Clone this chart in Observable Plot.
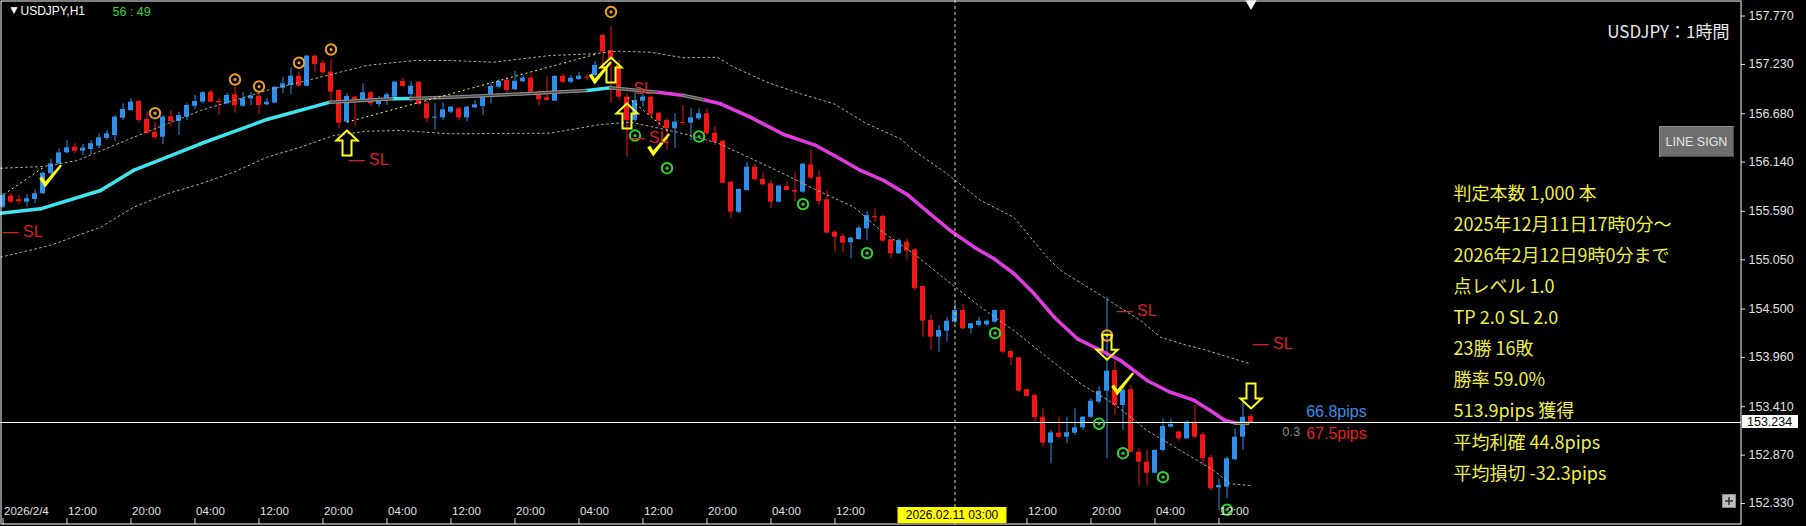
<!DOCTYPE html>
<html><head><meta charset="utf-8">
<script src="https://cdn.jsdelivr.net/npm/d3@7"></script>
<script src="https://cdn.jsdelivr.net/npm/@observablehq/plot@0.6"></script>
<style>
html,body{margin:0;padding:0;background:#000;}
#chart{position:relative;width:1806px;height:526px;overflow:hidden;background:#000;}
svg{display:block;}
</style></head><body><div id="chart"></div>
<script>
// ---------- DATA (H1 bars, index 1 = 2026/2/4 04:00) ----------
const opens = [155.637,155.760,155.720,155.693,155.723,155.787,156.010,156.121,156.244,156.307,156.262,156.281,156.318,156.404,156.437,156.630,156.716,156.817,156.616,156.474,156.418,156.646,156.594,156.642,156.764,156.809,156.921,156.817,156.791,156.892,156.764,156.847,156.876,156.780,156.798,156.965,156.995,157.099,156.987,157.322,157.244,157.144,156.940,156.586,156.865,156.820,156.914,156.783,156.836,156.865,157.040,156.892,157.032,156.791,156.630,156.635,156.697,156.735,156.635,156.746,156.761,156.876,156.976,157.051,156.947,157.037,157.077,156.921,156.858,156.820,157.096,157.032,157.062,157.088,157.107,157.553,157.386,157.219,156.865,156.605,156.820,156.865,156.686,156.605,156.512,156.582,156.575,156.624,156.679,156.463,156.374,155.916,155.581,155.823,156.083,155.946,155.898,155.693,155.868,155.823,155.804,156.110,155.972,155.720,155.358,155.310,155.240,155.277,155.396,155.533,155.533,155.273,155.117,155.246,155.162,154.752,154.372,154.186,154.253,154.354,154.484,154.280,154.317,154.324,154.354,154.484,154.026,153.956,153.599,153.535,153.293,153.003,153.115,153.070,153.115,153.175,153.293,153.461,153.583,153.814,153.424,153.599,152.903,152.791,152.668,152.922,153.182,153.126,153.052,153.237,153.097,152.840,152.505,152.512,152.818,153.070,153.301];
const highs = [155.787,155.787,155.768,155.779,155.835,156.028,156.177,156.289,156.381,156.345,156.337,156.381,156.456,156.493,156.660,156.791,156.847,156.828,156.697,156.586,156.660,156.716,156.697,156.791,156.884,156.928,156.940,156.847,156.909,156.976,156.921,156.921,156.903,156.854,156.984,157.088,157.193,157.144,157.330,157.330,157.274,157.282,156.947,156.903,156.876,157.014,156.928,156.873,156.914,157.040,157.077,157.040,157.040,156.817,156.791,156.802,156.761,156.753,156.761,156.828,156.892,157.014,157.059,157.077,157.152,157.107,157.118,156.940,157.096,157.107,157.126,157.107,157.144,157.118,157.263,157.572,157.654,157.274,156.906,156.921,156.903,156.873,156.697,156.624,156.679,156.772,156.735,156.735,156.735,156.538,156.381,155.927,155.842,156.139,156.114,156.021,155.935,155.879,155.916,156.028,156.128,156.278,156.039,155.823,155.377,155.340,155.302,155.425,155.589,155.619,155.544,155.284,155.284,155.284,155.176,154.763,154.428,154.317,154.409,154.559,154.551,154.342,154.409,154.380,154.492,154.492,154.045,153.963,153.610,153.554,153.387,153.145,153.293,153.293,153.387,153.301,153.499,153.636,154.633,153.918,153.610,153.647,152.940,152.929,152.929,153.275,153.275,153.137,153.256,153.424,153.126,152.866,152.606,152.847,153.164,153.461,153.323];
const lows = [155.619,155.675,155.667,155.637,155.675,155.779,155.991,156.114,156.233,156.233,156.214,156.222,156.289,156.381,156.374,156.605,156.705,156.575,156.445,156.393,156.337,156.530,156.437,156.605,156.724,156.791,156.802,156.660,156.780,156.686,156.753,156.772,156.672,156.769,156.791,156.903,156.895,156.976,156.976,157.144,157.115,156.828,156.512,156.575,156.538,156.809,156.761,156.753,156.772,156.847,156.976,156.809,156.772,156.579,156.493,156.605,156.679,156.605,156.586,156.735,156.660,156.791,156.958,156.884,156.940,157.025,156.909,156.764,156.820,156.817,157.014,157.014,157.051,157.051,157.088,157.200,156.794,156.828,156.195,156.586,156.753,156.642,156.530,156.270,156.289,156.549,156.381,156.605,156.437,156.326,155.898,155.508,155.563,155.816,155.927,155.879,155.619,155.682,155.816,155.693,155.793,155.946,155.656,155.340,155.135,155.128,155.061,155.265,155.265,155.470,155.246,155.061,155.109,155.050,154.699,154.186,154.038,154.019,154.130,154.336,154.269,154.224,154.298,154.309,154.342,154.001,153.870,153.572,153.516,153.237,152.958,152.773,153.052,152.996,153.089,153.145,153.275,153.443,152.829,153.312,153.145,152.891,152.531,152.531,152.661,152.903,153.175,153.025,153.044,153.052,152.754,152.475,152.252,152.382,152.810,152.922,153.226];
const closes = [155.768,155.693,155.697,155.731,155.787,156.016,156.121,156.244,156.300,156.262,156.296,156.345,156.412,156.456,156.642,156.727,156.809,156.605,156.463,156.412,156.642,156.594,156.660,156.772,156.817,156.914,156.809,156.802,156.884,156.769,156.847,156.876,156.772,156.809,156.976,157.014,157.099,156.987,157.322,157.230,157.137,156.921,156.575,156.873,156.809,156.914,156.791,156.836,156.892,157.032,156.984,156.987,156.783,156.624,156.642,156.724,156.753,156.635,156.753,156.780,156.884,156.984,157.040,156.940,157.043,157.077,156.921,156.836,156.828,157.096,157.032,157.077,157.099,157.081,157.219,157.367,157.297,156.865,156.605,156.828,156.865,156.672,156.597,156.512,156.586,156.571,156.635,156.679,156.456,156.362,155.905,155.581,155.835,156.083,155.943,155.887,155.693,155.871,155.823,155.804,156.117,155.961,155.701,155.349,155.302,155.235,155.291,155.403,155.544,155.519,155.258,155.117,155.265,155.146,154.726,154.365,154.186,154.261,154.365,154.484,154.280,154.336,154.365,154.365,154.484,154.019,153.956,153.583,153.524,153.287,153.003,153.119,153.070,153.119,153.175,153.293,153.472,153.583,153.807,153.424,153.591,152.903,152.791,152.668,152.922,153.189,153.212,153.052,153.237,153.070,152.829,152.494,152.531,152.829,153.070,153.293,153.234];

// moving average (bar position, price, colour of the following segment)
const maBars = [0.69,5.69,13.19,17.3,25.7,34,41.9,49.8,51.9,56.9,65.7,74,76.9,82.8,86.1,88.6,90.7,94.4,98.6,102.6,104.9,108.2,111.1,114,116.9,119.4,122.4,124.9,127.4,129.9,132.4,135.3,137.8,140.7,144,146.9,149.9,151.9,153.6,155.1,156.6];
const maVals = [155.570,155.619,155.823,156.047,156.345,156.616,156.809,156.847,156.850,156.865,156.900,156.940,156.970,156.921,156.884,156.836,156.791,156.642,156.448,156.326,156.214,156.047,155.935,155.779,155.563,155.377,155.191,155.061,154.894,154.670,154.409,154.168,154.057,153.926,153.703,153.572,153.480,153.368,153.264,153.226,153.223];
const maColors = ["c","c","c","c","c","c","g","c","g","g","g","c","g","m","g","m","m","m","m","m","m","m","m","m","m","m","m","m","m","m","m","m","m","m","m","m","m","m","m","g"];

// envelope bands
const upperBars = [0.69,6.1,10.3,17.35,25.7,34,42.35,46.5,52.35,56.9,62.3,69.4,74.85,77.8,81.9,86.1,90.3,92.35,96.5,100.7,104.85,109,113.2,114.85,119,123.2,127.35,131.5,133.2,138.6,143.2,145.7,148.6,151.5,156.9];
const upperVals = [156.072,156.091,156.158,156.418,156.716,156.940,157.126,157.219,157.274,157.274,157.255,157.330,157.349,157.378,157.367,157.304,157.311,157.200,157.032,156.903,156.791,156.568,156.400,156.270,156.010,155.712,155.525,155.079,154.931,154.633,154.372,154.186,154.105,154.038,153.889];
const lowerBars = [0.69,6.9,13.2,17.35,21.5,25.7,29.85,34,38.2,42.35,46.5,50.7,56.9,69.4,75.7,79.4,85.3,90.3,94.4,99,102.8,107.4,110.7,114.85,119,123.2,127.35,131.5,135.7,139.85,144,148.2,152.35,154.4,156.9];
const lowerVals = [155.079,155.210,155.414,155.637,155.787,155.898,156.028,156.195,156.307,156.437,156.485,156.493,156.456,156.463,156.560,156.586,156.474,156.354,156.186,155.991,155.823,155.637,155.377,155.117,154.819,154.521,154.261,153.963,153.666,153.443,153.145,152.922,152.698,152.550,152.531];

// yellow dotted trend lines
const trendBar1 = [1.1,44,79.1], trendVal1 = [155.779,156.586,156.861];
const trendBar2 = [6.1,75.3,84.1], trendVal2 = [156.083,157.349,156.493];

// signals
const orangeBars = [20,30,33,38,42,77,139];
const orangeVals = [156.686,157.062,156.984,157.249,157.397,157.816,154.205];
const greenBars = [80,84,88,101,109,125,138,141,146,154];
const greenVals = [156.437,156.072,156.426,155.671,155.124,154.231,153.220,152.891,152.624,152.260];
const upArrowBars = [44,77,79];
const upArrowVals = [156.354,157.168,156.655];
const downArrowBars = [139,157];
const downArrowVals = [154.074,153.530];
const checkBars = [6.9,75.6,82.9,140.9];
const checkVals = [155.991,157.140,156.337,153.669];
const slBars = [0.94,44.2,79.8,79.2,140.2,157.2];
const slVals = [155.366,156.169,156.962,156.415,154.484,154.116];
const slTexts = ["— SL","— SL","SL","— SL","— SL","— SL"];
const pipsBars = [163.9,160.9,163.9];
const pipsVals = [153.349,153.126,153.106];
const pipsTexts = ["66.8pips","0.3","67.5pips"];

// axes
const yTicks = [157.770,157.230,156.680,156.140,155.590,155.050,154.500,153.960,153.410,152.870,152.330];
const xLabelBars = [1,9,17,25,33,41,49,57,65,73,81,89,97,105,129,137,145,153];
const xLabels = ["2026/2/4","12:00","20:00","04:00","12:00","20:00","04:00","12:00","20:00","04:00","12:00","20:00","04:00","12:00","12:00","20:00","04:00","12:00"];
const currentPrice = 153.234;
const crossBar = 120;
const crossLabel = "2026.02.11 03:00";
const lastBar = 157;

// texts
const symbolText = "USDJPY,H1";
const timerText = "56 : 49";
const chartTitle = "USDJPY：1時間";
const buttonText = "LINE SIGN";
const statsLines = ["判定本数 1,000 本","2025年12月11日17時0分～","2026年2月12日9時0分まで","点レベル 1.0","TP 2.0 SL 2.0","23勝 16敗","勝率 59.0%","513.9pips 獲得","平均利確 44.8pips","平均損切 -32.3pips"];

// ---------- BUILD ----------
const UP = "#2f8fea", DN = "#f01616";
const MAC = {c:"#3fe4ee", g:"#8a8a8a", m:"#e03be0"};
const LAT = "Liberation Sans, Arial, sans-serif";
const JP = "Noto Sans CJK JP, sans-serif";

const candles = opens.map((o,k)=>({i:k+1,o,h:highs[k],l:lows[k],c:closes[k]}));
const col = d => d.c >= d.o ? UP : DN;
const bodyTop = d => Math.max(d.o,d.c);
const bodyBot = d => Math.abs(d.o-d.c) < 0.0112 ? Math.max(d.o,d.c) - 0.0112 : Math.min(d.o,d.c);

const maSegs = [];
maColors.forEach((c,j)=>{
  maSegs.push({i:maBars[j],p:maVals[j],z:j,c});
  maSegs.push({i:maBars[j+1],p:maVals[j+1],z:j,c});
});
const upper = upperBars.map((i,k)=>({i,p:upperVals[k]}));
const lower = lowerBars.map((i,k)=>({i,p:lowerVals[k]}));
const trends = trendBar1.map((b,k)=>({x1:b,y1:trendVal1[k],x2:trendBar2[k],y2:trendVal2[k]}));
const pts = (b,v)=>b.map((i,k)=>({i,p:v[k]}));

const arrowUp = {draw(ctx,size){const s=Math.sqrt(size/Math.PI);const h=s,w=s*0.85,sw=s*0.36,hh=s*0.8;
  ctx.moveTo(0,-h);ctx.lineTo(w,-h+hh);ctx.lineTo(sw,-h+hh);ctx.lineTo(sw,h);ctx.lineTo(-sw,h);ctx.lineTo(-sw,-h+hh);ctx.lineTo(-w,-h+hh);ctx.closePath();}};
const arrowDown = {draw(ctx,size){const s=Math.sqrt(size/Math.PI);const h=s,w=s*0.85,sw=s*0.36,hh=s*0.8;
  ctx.moveTo(0,h);ctx.lineTo(w,h-hh);ctx.lineTo(sw,h-hh);ctx.lineTo(sw,-h);ctx.lineTo(-sw,-h);ctx.lineTo(-sw,h-hh);ctx.lineTo(-w,h-hh);ctx.closePath();}};
const checkSym = {draw(ctx,size){const s=Math.sqrt(size/Math.PI)/12;
  ctx.moveTo(-11*s,3*s);ctx.lineTo(-8*s,1*s);ctx.lineTo(-5*s,6*s);ctx.lineTo(10*s,-11*s);ctx.lineTo(12*s,-10*s);ctx.lineTo(-5*s,12*s);ctx.closePath();}};

const xDomain = [0.6875, 218.3125];

const marks = [
  // candles
  Plot.ruleX(candles,{x:"i",y1:"l",y2:"h",stroke:col,strokeWidth:1}),
  Plot.rect(candles,{x1:d=>d.i-0.5,x2:d=>d.i+0.5,y1:bodyTop,y2:bodyBot,insetLeft:1.5,insetRight:1.5,fill:col}),
  // bands
  Plot.line(upper,{x:"i",y:"p",stroke:"#a8a8a8",strokeWidth:1,strokeDasharray:"2,3"}),
  Plot.line(lower,{x:"i",y:"p",stroke:"#a8a8a8",strokeWidth:1,strokeDasharray:"2,3"}),
  // moving average
  Plot.line(maSegs,{x:"i",y:"p",z:"z",stroke:d=>MAC[d.c],strokeWidth:3.5,strokeLinecap:"round"}),
  Plot.line(maSegs.filter(d=>d.c==="g"),{x:"i",y:"p",z:"z",stroke:"#3a3a3a",strokeWidth:1}),
  // trend lines
  Plot.link(trends,{x1:"x1",y1:"y1",x2:"x2",y2:"y2",stroke:"#ffff70",strokeWidth:1,strokeDasharray:"2,3"}),
  // current price & crosshair
  Plot.ruleY([currentPrice],{y:d=>d,stroke:"#ffffff",strokeWidth:1}),
  Plot.ruleX([crossBar],{x:d=>d,stroke:"#e6e66e",strokeWidth:1,strokeDasharray:"3,3"}),
  // signal rings
  Plot.dot(pts(orangeBars,orangeVals),{x:"i",y:"p",r:5.2,stroke:"#f0a020",strokeWidth:2,fill:"none"}),
  Plot.dot(pts(orangeBars,orangeVals),{x:"i",y:"p",r:1.6,fill:"#f0a020"}),
  Plot.dot(pts(greenBars,greenVals),{x:"i",y:"p",r:5.2,stroke:"#2fd42f",strokeWidth:2,fill:"none"}),
  Plot.dot(pts(greenBars,greenVals),{x:"i",y:"p",r:1.6,fill:"#2fd42f"}),
  // arrows & checks
  Plot.dot(pts(upArrowBars,upArrowVals),{x:"i",y:"p",r:12.5,symbol:arrowUp,fill:"none",stroke:"#ffff1a",strokeWidth:2}),
  Plot.dot(pts(downArrowBars,downArrowVals),{x:"i",y:"p",r:12.5,symbol:arrowDown,fill:"none",stroke:"#ffff1a",strokeWidth:2}),
  Plot.dot(pts(checkBars,checkVals),{x:"i",y:"p",r:12,symbol:checkSym,fill:"#ffff1a",stroke:"none"}),
  // SL labels
  Plot.text(slBars.map((i,k)=>({i,p:slVals[k],t:slTexts[k]})),{x:"i",y:"p",text:"t",textAnchor:"start",fill:"#d42222",fontSize:16,fontFamily:LAT}),
  // pips
  Plot.text(pipsBars.map((i,k)=>({i,p:pipsVals[k],t:pipsTexts[k],k})),{x:"i",y:"p",text:"t",textAnchor:"start",fill:d=>["#3a8ee8","#8c8c8c","#e02020"][d.k],fontSize:d=>d.k===1?13:16,fontFamily:LAT}),
  // y axis (right)
  Plot.ruleY(yTicks,{y:d=>d,x1:()=>xDomain[1],x2:()=>xDomain[1]+0.5,stroke:"#d8d8d8"}),
  Plot.text(yTicks,{y:d=>d,text:d=>d3.format(".3f")(d),frameAnchor:"right",dx:7,textAnchor:"start",lineAnchor:"middle",fill:"#e0e0e0",fontSize:12.5,fontFamily:LAT}),
  // x axis (inside bottom)
  Plot.ruleX(xLabelBars,{x:d=>d,insetTop:518,stroke:"#d8d8d8"}),
  Plot.text(xLabelBars,{x:d=>d,text:(d,k)=>xLabels[k],frameAnchor:"bottom",dy:-13,dx:1,textAnchor:"start",lineAnchor:"middle",fill:"#e0e0e0",fontSize:11.5,fontFamily:LAT}),
  // last bar marker
  Plot.dot([lastBar],{x:d=>d,frameAnchor:"top",dy:3,symbol:"triangle",rotate:180,r:4.2,fill:"#ffffff"}),
  // header
  Plot.text(["▼"],{text:d=>d,frameAnchor:"top-left",dx:10,dy:10,lineAnchor:"middle",fill:"#ffffff",fontSize:9,fontFamily:"DejaVu Sans"}),
  Plot.text([symbolText],{text:d=>d,frameAnchor:"top-left",dx:20,dy:11,textAnchor:"start",lineAnchor:"middle",fill:"#ffffff",fontSize:12,fontFamily:LAT}),
  Plot.text([timerText],{text:d=>d,frameAnchor:"top-left",dx:112,dy:11,textAnchor:"start",lineAnchor:"middle",fill:"#3cd23c",fontSize:12.5,fontFamily:LAT}),
  Plot.text([chartTitle],{text:d=>d,frameAnchor:"top-left",dx:1729,dy:32.5,textAnchor:"end",lineAnchor:"middle",fill:"#e8e8e8",fontSize:17,fontFamily:JP}),
  ...statsLines.map((t,k)=>Plot.text([t],{text:d=>d,frameAnchor:"top-left",dx:1453,dy:193.5+31.1*k,textAnchor:"start",lineAnchor:"middle",fill:"#eeee48",fontSize:18,fontFamily:JP})),
  Plot.frame({stroke:"#ffffff",inset:0.5})
];

const plot = Plot.plot({
  width:1806, height:526, marginLeft:0, marginRight:65, marginTop:0, marginBottom:2,
  style:{background:"#000",overflow:"visible",fontFamily:LAT},
  x:{domain:xDomain, axis:null},
  y:{domain:[152.0956,157.9438], axis:null},
  color:{type:"identity"},
  marks
});
document.getElementById("chart").appendChild(plot);

// ---------- overlays (screen-anchored widgets) ----------
const svg = d3.select(plot);
const xs = plot.scale("x"), ys = plot.scale("y");
// current price box on the axis
const py = ys.apply(currentPrice);
svg.append("rect").attr("x",1742).attr("y",py-7).attr("width",56).attr("height",13).attr("fill","#ffffff");
svg.append("text").attr("x",1747).attr("y",py-0.5).attr("dy","0.35em").attr("text-anchor","start").attr("fill","#000").attr("font-size",12.5).attr("font-family",LAT).text(d3.format(".3f")(currentPrice));
// crosshair time label
const cx = xs.apply(crossBar);
svg.append("rect").attr("x",cx-57).attr("y",507).attr("width",109).attr("height",16).attr("fill","#ffff00");
svg.append("text").attr("x",cx-2.5).attr("y",515).attr("dy","0.35em").attr("text-anchor","middle").attr("fill","#000").attr("font-size",12).attr("font-family",LAT).text(crossLabel);
// LINE SIGN button
svg.append("rect").attr("x",1659.5).attr("y",126.5).attr("width",74).attr("height",30).attr("fill","#6e6e6e").attr("stroke","#8e8e8e");
svg.append("path").attr("d","M1660,156.5H1733.5V127").attr("stroke","#4a4a4a").attr("fill","none");
svg.append("text").attr("x",1696.5).attr("y",141.5).attr("dy","0.35em").attr("text-anchor","middle").attr("fill","#e4e4e4").attr("font-size",12.5).attr("font-family",LAT).text(buttonText);
// + button
svg.append("rect").attr("x",1722.5).attr("y",494.5).attr("width",13).attr("height",13).attr("fill","#bdbdbd").attr("stroke","#8a8a8a");
svg.append("path").attr("d","M1725,501H1733M1729,497V505").attr("stroke","#333").attr("stroke-width",1.5);
</script></body></html>
